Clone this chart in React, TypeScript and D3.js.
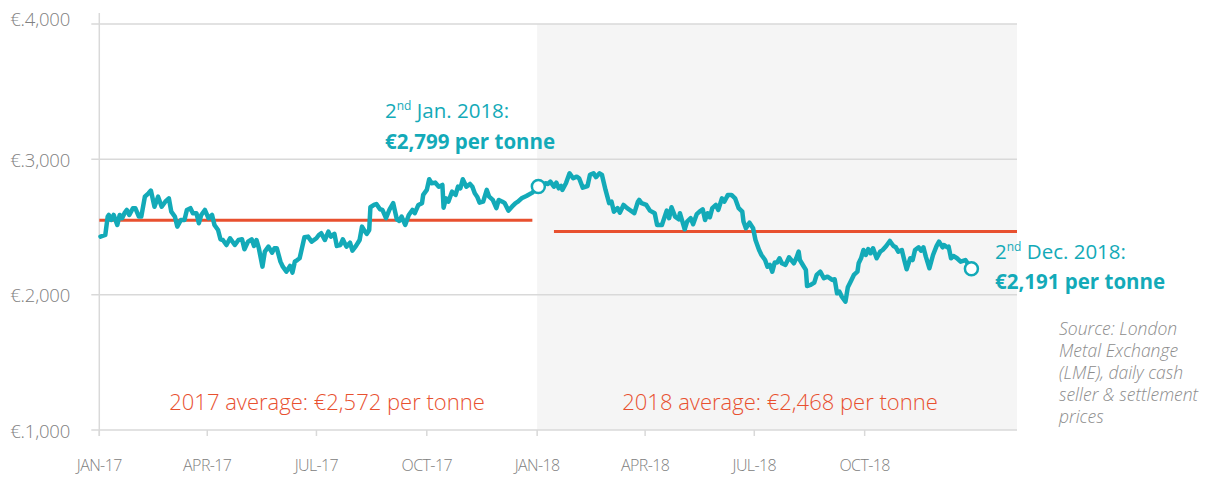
import React from "react";
import * as d3 from "d3";

// [days since 1 Jan 2017, €/tonne]
const prices: [number, number][] = [
  [1, 2429], [5, 2441], [7, 2577], [8, 2589], [10, 2552], [12, 2589], [15, 2515], [17, 2589], [19, 2565], [21, 2602],
  [23, 2626], [25, 2589], [28, 2639], [30, 2639], [33, 2577], [35, 2577], [38, 2724], [41, 2749], [43, 2769], [46, 2650],
  [49, 2724], [52, 2650], [55, 2687], [58, 2712], [60, 2613], [63, 2577], [65, 2503], [68, 2552], [71, 2552], [73, 2626],
  [76, 2639], [78, 2602], [81, 2602], [83, 2528], [85, 2589], [88, 2626], [91, 2565], [94, 2589], [96, 2515], [99, 2478],
  [101, 2409], [103, 2404], [106, 2367], [109, 2417], [113, 2367], [116, 2404], [119, 2409], [121, 2336], [124, 2392], [127, 2409],
  [129, 2360], [131, 2404], [133, 2343], [136, 2207], [138, 2318], [141, 2355], [144, 2310], [146, 2343], [148, 2343], [151, 2244],
  [153, 2207], [156, 2170], [159, 2212], [161, 2163], [163, 2244], [165, 2256], [167, 2269], [171, 2424], [174, 2429], [177, 2392],
  [181, 2417], [183, 2441], [185, 2454], [188, 2404], [191, 2466], [193, 2429], [196, 2449], [198, 2360], [201, 2367], [203, 2409],
  [206, 2355], [209, 2384], [211, 2325], [214, 2360], [217, 2404], [219, 2503], [221, 2473], [223, 2449], [225, 2478], [226, 2646],
  [229, 2663], [231, 2670], [234, 2631], [236, 2626], [239, 2565], [242, 2631], [245, 2676], [248, 2557], [250, 2545], [252, 2577],
  [255, 2515], [258, 2589], [261, 2626], [263, 2602], [266, 2663], [269, 2676], [270, 2737], [273, 2774], [275, 2853], [277, 2823],
  [280, 2828], [283, 2798], [286, 2811], [287, 2643], [289, 2712], [291, 2687], [294, 2761], [297, 2737], [299, 2798], [301, 2786],
  [303, 2853], [306, 2798], [309, 2818], [311, 2798], [313, 2749], [315, 2724], [317, 2680], [320, 2687], [323, 2774], [325, 2724],
  [328, 2700], [331, 2639], [333, 2700], [336, 2687], [338, 2676], [341, 2621], [344, 2650], [347, 2676], [349, 2687], [352, 2712],
  [356, 2729], [361, 2754], [366, 2799], [372, 2823], [374, 2818], [376, 2835], [379, 2798], [381, 2828], [383, 2786], [385, 2803],
  [386, 2774], [389, 2823], [392, 2897], [395, 2860], [398, 2872], [400, 2860], [403, 2791], [407, 2803], [409, 2885], [412, 2897],
  [414, 2868], [417, 2897], [419, 2885], [422, 2774], [425, 2676], [427, 2687], [429, 2613], [432, 2639], [434, 2606], [437, 2663],
  [440, 2639], [443, 2621], [446, 2602], [449, 2687], [450, 2700], [452, 2676], [456, 2663], [459, 2621], [463, 2602], [465, 2515],
  [469, 2515], [473, 2621], [475, 2565], [477, 2646], [480, 2577], [483, 2557], [484, 2602], [488, 2483], [490, 2540], [493, 2565],
  [495, 2520], [498, 2595], [501, 2618], [503, 2631], [505, 2552], [507, 2602], [509, 2572], [511, 2639], [514, 2663], [516, 2626],
  [519, 2712], [521, 2687], [524, 2737], [527, 2737], [530, 2712], [533, 2639], [536, 2613], [537, 2540], [539, 2491], [542, 2532],
  [545, 2491], [547, 2404], [550, 2330], [552, 2293], [555, 2256], [557, 2207], [559, 2220], [561, 2170], [563, 2237], [565, 2237],
  [567, 2269], [569, 2232], [572, 2220], [575, 2276], [579, 2232], [581, 2269], [583, 2318], [584, 2256], [587, 2212], [589, 2183],
  [590, 2064], [593, 2072], [596, 2089], [598, 2146], [601, 2170], [604, 2121], [607, 2133], [611, 2109], [613, 2114], [615, 2010],
  [617, 2022], [619, 1985], [622, 1948], [624, 2055], [627, 2109], [629, 2146], [632, 2170], [633, 2232], [635, 2269], [637, 2330],
  [639, 2293], [641, 2336], [643, 2306], [645, 2343], [648, 2269], [651, 2318], [653, 2330], [656, 2360], [659, 2397], [662, 2360],
  [664, 2350], [666, 2318], [669, 2330], [671, 2256], [673, 2188], [676, 2269], [678, 2256], [680, 2330], [683, 2350], [685, 2325],
  [687, 2350], [689, 2281], [692, 2195], [695, 2293], [698, 2360], [700, 2392], [703, 2350], [704, 2367], [707, 2350], [708, 2355],
  [710, 2269], [712, 2286], [715, 2269], [718, 2244], [722, 2256], [727, 2191],
];

// average lines: [startDay, endDay, value]
const averages: [number, number, number][] = [
  [0, 361, 2550],
  [379, 765, 2466],
];
const averageLabels = ["2017 average: €2,572 per tonne", "2018 average: €2,468 per tonne"];

const yTicks = [1000, 2000, 3000, 4000];
const xTickDays = [0, 90, 181, 273, 365, 455, 546, 638];
const xTickLabels = ["JAN-17", "APR-17", "JUL-17", "OCT-17", "JAN-18", "APR-18", "JUL-18", "OCT-18"];

const markerDays = [366, 727];
const sourceLines = ["Source: London", "Metal Exchange", "(LME), daily cash", "seller & settlement", "prices"];

const START = new Date(2017, 0, 1);
const day = (d: number) => d3.timeDay.offset(START, d);

const TEAL = "#13aab8";
const RED = "#e8502f";
const GRID = "#d9d9d9";
const FONT = "'Open Sans', 'Noto Sans', sans-serif";

export default function App() {
  const W = 1214, H = 477;
  const left = 99.3, right = 1017, top = 24, bottom = 430;
  const x = d3.scaleTime().domain([day(0), day(765)]).range([left, right]);
  const y = d3.scaleLinear().domain([1000, 4000]).range([bottom, top]);
  const line = d3.line<[number, number]>().x((d) => x(day(d[0]))).y((d) => y(d[1])).curve(d3.curveLinear);
  const priceOf = (d: number) => prices.find((p) => p[0] === d)![1];

  return (
    <svg width={W} height={H} style={{ position: "absolute", left: 0, top: 0, background: "#fff" }}>
      {/* 2018 shaded panel */}
      <rect x={x(day(365))} y={top} width={right - x(day(365))} height={bottom - top} fill="#f5f5f5" />
      {/* grid */}
      {yTicks.map((t) => (
        <line key={t} x1={left - 8} x2={right} y1={y(t)} y2={y(t)} stroke={GRID} strokeWidth={1.5} />
      ))}
      <line x1={left} x2={left} y1={13} y2={bottom + 6} stroke={GRID} strokeWidth={1.5} />
      {xTickDays.map((d) => (
        <line key={d} x1={x(day(d))} x2={x(day(d))} y1={bottom} y2={bottom + 6} stroke={GRID} strokeWidth={1.5} />
      ))}
      {/* y labels */}
      {yTicks.map((t) => (
        <text key={t} x={70} y={t === 4000 ? y(t) - 6 : y(t)} dominantBaseline="central" textAnchor="end"
          fontFamily={FONT} fontWeight={300} fontSize={18.5} fill="#808080" letterSpacing={-0.2}>
          {"€." + d3.format(",")(t)}
        </text>
      ))}
      {/* x labels */}
      {xTickDays.map((d, i) => (
        <text key={d} x={x(day(d))} y={471} textAnchor="middle" fontFamily={FONT} fontWeight={300}
          fontSize={16} fill="#808080" letterSpacing={-0.6}>
          {xTickLabels[i]}
        </text>
      ))}
      {/* averages */}
      {averages.map((a, i) => (
        <line key={i} x1={x(day(a[0]))} x2={x(day(a[1]))} y1={y(a[2])} y2={y(a[2])} stroke={RED} strokeWidth={3} />
      ))}
      {averageLabels.map((l, i) => (
        <text key={l} x={i === 0 ? 327 : 780} y={410} textAnchor="middle" fontFamily={FONT} fontWeight={300}
          fontSize={22} fill={RED}>
          {l}
        </text>
      ))}
      {/* price line */}
      <path d={line(prices) || ""} fill="none" stroke={TEAL} strokeWidth={4.5} strokeLinejoin="round" strokeLinecap="round" />
      {markerDays.map((d) => (
        <circle key={d} cx={x(day(d))} cy={y(priceOf(d))} r={6.5} fill="#fff" stroke={TEAL} strokeWidth={2.5} />
      ))}
      {/* annotations */}
      <text x={385} y={118} fontFamily={FONT} fontSize={20.5} fill={TEAL}>
        2<tspan fontSize={12} dy={-8}>nd</tspan><tspan dy={8}> Jan. 2018:</tspan>
      </text>
      <text x={385} y={149} fontFamily={FONT} fontSize={20.5} fontWeight={700} fill={TEAL}>€2,799 per tonne</text>
      <text x={995} y={259} fontFamily={FONT} fontSize={20.5} fill={TEAL}>
        2<tspan fontSize={12} dy={-8}>nd</tspan><tspan dy={8}> Dec. 2018:</tspan>
      </text>
      <text x={995} y={289} fontFamily={FONT} fontSize={20.5} fontWeight={700} fill={TEAL}>€2,191 per tonne</text>
      {sourceLines.map((s, i) => (
        <text key={s} x={1059} y={335 + i * 22} fontFamily={FONT} fontStyle="italic" fontWeight={300}
          fontSize={17.5} fill="#8c8c8c">
          {s}
        </text>
      ))}
    </svg>
  );
}
